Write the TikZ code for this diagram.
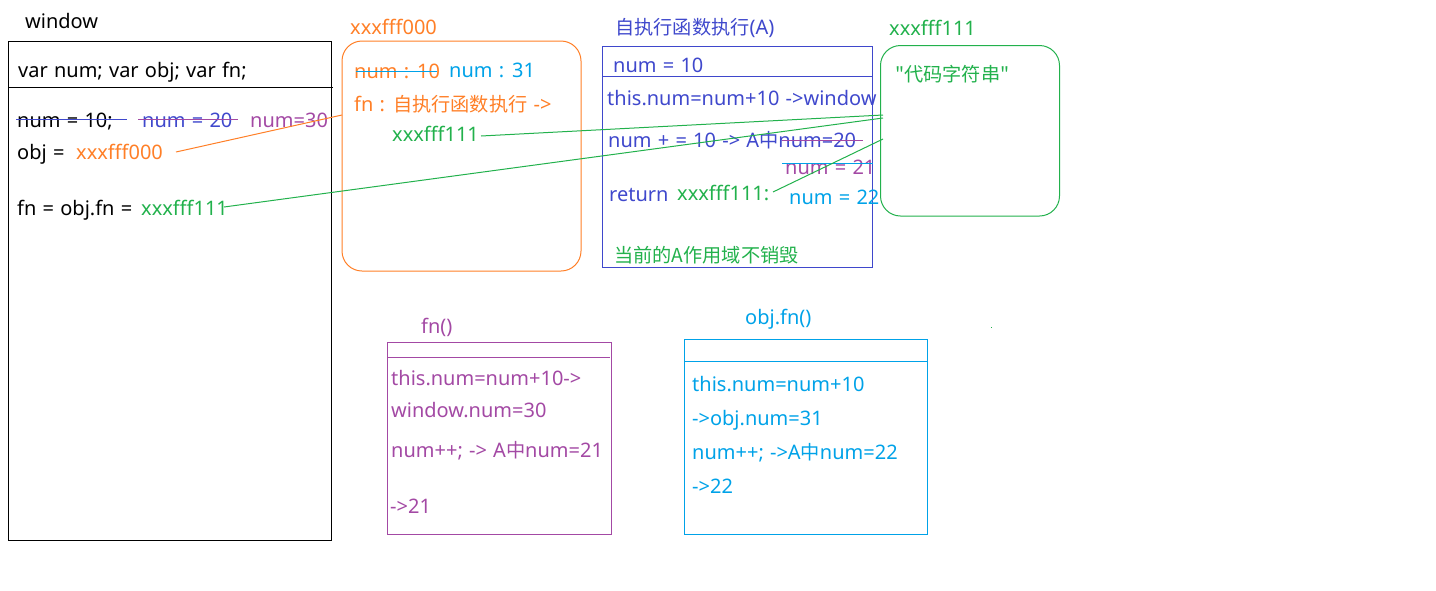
\documentclass[tikz,border=0pt]{standalone}
\usepackage{fontspec}
\setmainfont{Noto Sans}[WordSpace=1.2]
\newfontfamily\cjk{Noto Sans CJK SC}[Scale=0.96]
\definecolor{cOr}{HTML}{FF7F27}
\definecolor{cBl}{HTML}{3F48CC}
\definecolor{cPu}{HTML}{A349A4}
\definecolor{cCy}{HTML}{00A2E8}
\definecolor{cGr}{HTML}{22B14C}
\tikzset{
  txt/.style={anchor=west, inner sep=0pt, text height=16pt, text depth=2pt, font=\fontsize{20}{20}\selectfont},
  frame/.style={draw, line width=1pt},
  thin/.style={line width=1pt},
}
\begin{document}
\begin{tikzpicture}[x=1pt,y=-1pt]
\useasboundingbox (0,0) rectangle (1436,590);
% ---------- window ----------
\node[txt] (wt) at (25,21) {window};
\draw[frame] (8,41) rectangle (331,540);
\draw[thin] (8,87) -- (333,87);
\node[txt] (wv) at (18,70) {var num; var obj; var fn;};
\node[txt] (w1) at (17,120) {num = 10;};
\node[txt, text=cBl] (w2) at (142,120) {num = 20};
\node[txt, text=cPu] (w3) at (250,120) {num=30};
\draw[thin, cBl] (16,119) -- (127,119);
\draw[thin, cPu] (138,119) -- (238,119);
\node[txt] (w4) at (17,152) {obj =};
\node[txt, text=cOr] (w5) at (76,152) {xxxfff000};
\node[txt] (w6) at (17,208) {fn = obj.fn =};
\node[txt, text=cGr] (w7) at (141,208) {xxxfff111};
% ---------- xxxfff000 ----------
\node[txt, text=cOr] (ot) at (350,27) {xxxfff000};
\draw[frame, cOr, rounded corners=20pt] (342,41) rectangle (581,271);
\node[txt, text=cOr] (o1) at (354,71) {num : 10};
\draw[thin, cCy] (356,71) -- (437,71);
\node[txt, text=cCy] (o2) at (449,70) {num : 31};
\node[txt, text=cOr] (o3) at (354,104) {fn : {\cjk 自执行函数执行} ->};
\node[txt, text=cGr] (o4) at (392,134) {xxxfff111};
% ---------- A ----------
\node[txt, text=cBl] (at) at (615,27) {{\cjk 自执行函数执行}(A)};
\draw[frame, cBl] (602.5,46.5) rectangle (872.5,267);
\draw[thin, cBl] (603,76) -- (872,76);
\node[txt, text=cBl] (a1) at (613,65) {num = 10};
\node[txt, text=cBl] (a2) at (607,98) {this.num=num+10 ->window};
\node[txt, text=cBl] (a3) at (608,140) {num + = 10 -> A{\cjk 中}num=20};
\draw[thin, cPu] (782,140) -- (863,140);
\node[txt, text=cPu] (a4) at (785,167) {num = 21};
\draw[thin, cCy] (782,163) -- (873,163);
\node[txt, text=cBl] (a5) at (609,194) {return};
\node[txt, text=cGr] (a6) at (677,193) {xxxfff111:};
\node[txt, text=cCy] (a7) at (789,197) {num = 22};
\node[txt, text=cGr] (a8) at (614,255) {\cjk 当前的A作用域不销毁};
% ---------- xxxfff111 ----------
\node[txt, text=cGr] (gt) at (889,28) {xxxfff111};
\draw[frame, cGr, rounded corners=20pt] (880.5,45.5) rectangle (1059.5,216);
\node[txt, text=cGr] (g1) at (895,74) {\cjk "代码字符串"};
% ---------- fn() ----------
\node[txt, text=cPu] (ft) at (421,326) {fn()};
\draw[frame, cPu] (387.5,342.5) rectangle (611.5,534);
\draw[thin, cPu] (387,357) -- (610,357);
\node[txt, text=cPu] (f1) at (391,378) {this.num=num+10->};
\node[txt, text=cPu] (f2) at (391,410) {window.num=30};
\node[txt, text=cPu] (f3) at (391,450) {num++; -> A{\cjk 中}num=21};
\node[txt, text=cPu] (f4) at (390,506) {->21};
% ---------- obj.fn() ----------
\node[txt, text=cCy] (ct) at (745,317) {obj.fn()};
\draw[frame, cCy] (684.5,339.5) rectangle (927,534);
\draw[thin, cCy] (684,361) -- (927,361);
\node[txt, text=cCy] (c1) at (692,384) {this.num=num+10};
\node[txt, text=cCy] (c2) at (692,418) {->obj.num=31};
\node[txt, text=cCy] (c3) at (692,452) {num++; ->A{\cjk 中}num=22};
\node[txt, text=cCy] (c4) at (692,486) {->22};
% ---------- connectors ----------
\coordinate (pO1) at (176,152);
\coordinate (pO2) at (342,115);
\coordinate (pG1s) at (481,136);
\coordinate (pG2s) at (224,207);
\coordinate (pG3s) at (773,192);
\coordinate (pG1e) at (883,115);
\coordinate (pG2e) at (883,118);
\coordinate (pG3e) at (883,139);
\draw[thin, cOr] (pO1) -- (pO2);
\draw[thin, cGr] (pG1s) -- (pG1e);
\draw[thin, cGr] (pG2s) -- (pG2e);
\draw[thin, cGr] (pG3s) -- (pG3e);
\fill[cGr] (990.5,326.5) rectangle (991.5,327.5);
\end{tikzpicture}
\end{document}
